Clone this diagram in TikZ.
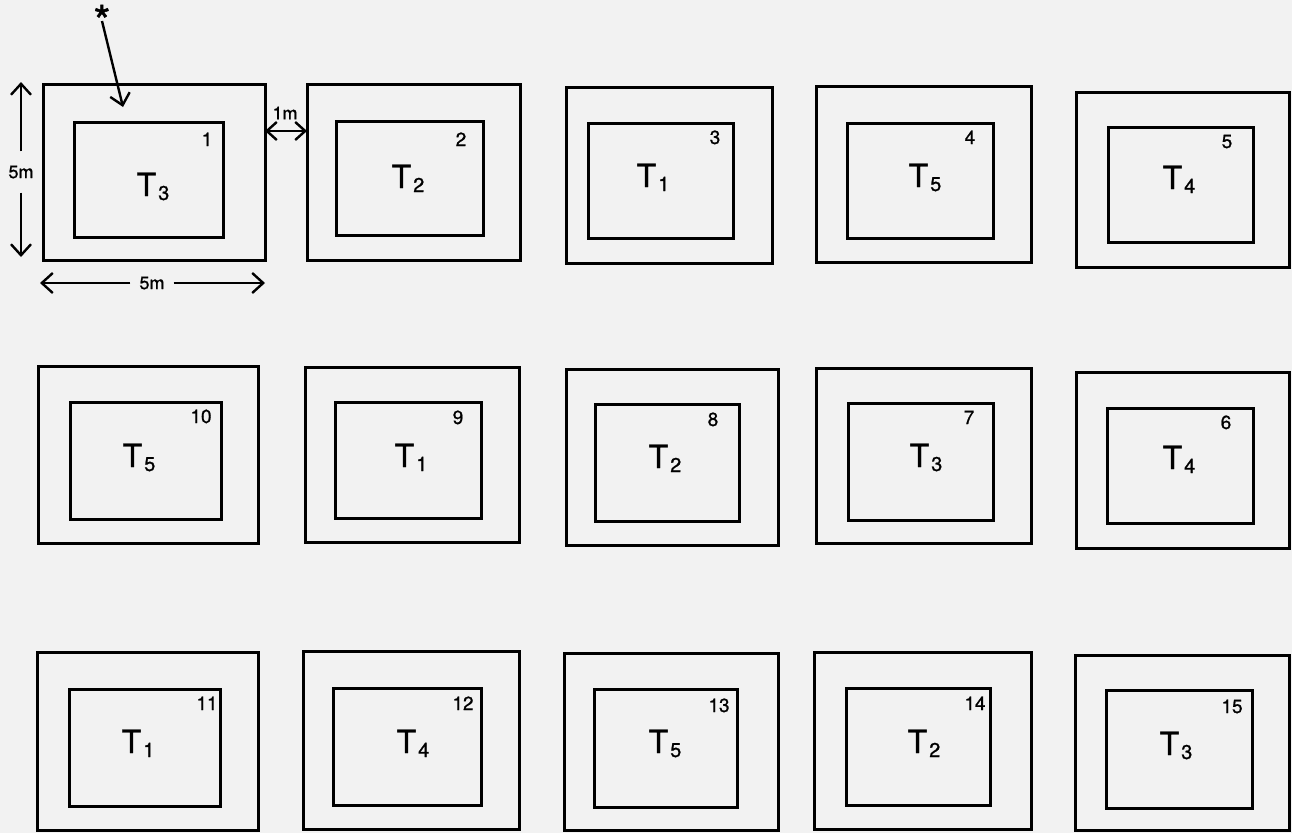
\documentclass[tikz,border=0pt]{standalone}
\usepackage{fontspec}
\setmainfont[FakeBold=1]{TeX Gyre Heros}
\usetikzlibrary{arrows.meta,fit}
\newcommand\subsz{\fontsize{20}{20}\selectfont}
\newcommand\plotunit[9]{%
  \node[obox, fit={(#2,#3) (#4,#5)}] (o#1) {};
  \node[ibox, fit={(#6,#7) (#8,#9)}] (i#1) {};
}
\newcommand\plotlabel[6]{%
  \node[tlab] (t#1) at (#2,#3) {T\hspace{2pt}\raisebox{-4pt}{\subsz #4}};
  \node[nlab] (n#1) at (#5,#6) {#1};
}
\begin{document}
\begin{tikzpicture}[x=1pt,y=-1pt,
  obox/.style={draw, line width=3pt, inner sep=0pt, outer sep=0pt},
  ibox/.style={draw, line width=3pt, inner sep=0pt, outer sep=0pt},
  tlab/.style={anchor=base, inner sep=0pt, font=\fontsize{32}{32}\selectfont},
  nlab/.style={anchor=base, inner sep=0pt, font=\fontsize{19}{19}\selectfont},
  dlab/.style={inner sep=0pt, font=\fontsize{18}{18}\selectfont},
  dim/.style={line width=2.4pt, -{Straight Barb[length=11pt,width=20pt]}},
  dimboth/.style={line width=2.4pt, {Straight Barb[length=10pt,width=18pt]}-{Straight Barb[length=10pt,width=18pt]}},
]
\useasboundingbox[fill=black!5] (0,0) rectangle (1292,833);
% row 1
\plotunit{1}{43}{84}{265}{260}{74}{122}{223}{237}
\plotunit{2}{307}{84}{520}{260}{336}{121}{483}{235}
\plotunit{3}{566}{87}{772}{263}{588}{123}{733}{238}
\plotunit{4}{816}{86}{1031}{262}{847}{123}{993}{238}
\plotunit{5}{1076}{92}{1289}{267}{1108}{127}{1253}{242}
% row 2
\plotunit{10}{38}{366}{258}{543}{70}{402}{221}{519}
\plotunit{9}{305}{367}{519}{542}{335}{402}{481}{518}
\plotunit{8}{566}{369}{778}{545}{595}{404}{739}{521}
\plotunit{7}{816}{368}{1031}{543}{848}{403}{993}{520}
\plotunit{6}{1076}{372}{1289}{548}{1107}{408}{1253}{523}
% row 3
\plotunit{11}{37}{652}{258}{830}{69}{689}{220}{806}
\plotunit{12}{303}{651}{519}{829}{333}{688}{481}{805}
\plotunit{13}{564}{653}{778}{830}{594}{689}{737}{807}
\plotunit{14}{814}{652}{1031}{829}{846}{688}{990}{805}
\plotunit{15}{1075}{655}{1289}{830}{1106}{690}{1252}{808}
% labels
\plotlabel{1}{153}{196}{3}{207}{146}
\plotlabel{2}{408}{188}{2}{461}{146}
\plotlabel{3}{653}{187}{1}{715}{144}
\plotlabel{4}{925}{187}{5}{970}{144}
\plotlabel{5}{1179}{189}{4}{1227}{148}
\plotlabel{10}{139}{467}{5}{201}{423}
\plotlabel{9}{411}{467}{1}{458}{424}
\plotlabel{8}{665}{468}{2}{713}{426}
\plotlabel{7}{926}{467}{3}{969}{424}
\plotlabel{6}{1179}{469}{4}{1226}{429}
\plotlabel{11}{138}{753}{1}{207}{710}
\plotlabel{12}{413}{753}{4}{463}{710}
\plotlabel{13}{665}{753}{5}{719}{712}
\plotlabel{14}{924}{753}{2}{975}{710}
\plotlabel{15}{1176}{755}{3}{1232}{713}
% dimensions
\coordinate (vtop) at (21,82);
\coordinate (vbot) at (21,257);
\node[dlab, inner ysep=14pt] (v5m) at (21,172) {5m};
\draw[dim] (v5m) -- (vtop);
\draw[dim] (v5m) -- (vbot);
\coordinate (hl) at (40,283);
\coordinate (hr) at (265,283);
\node[dlab, inner xsep=9pt] (h5m) at (152,283) {5m};
\draw[dim] (h5m) -- (hl);
\draw[dim] (h5m) -- (hr);
\coordinate (h1m) at (283,131);
\node[dlab] (l1m) at (285,113) {1m};
\draw[dimboth] (o1.east |- h1m) -- (o2.west |- h1m);
% star
\node[inner sep=0pt, font=\fontsize{44}{44}\selectfont] (star) at (102,21) {*};
\coordinate (starend) at (123,107);
\draw[dim] (star.center) -- (starend);
\end{tikzpicture}
\end{document}
